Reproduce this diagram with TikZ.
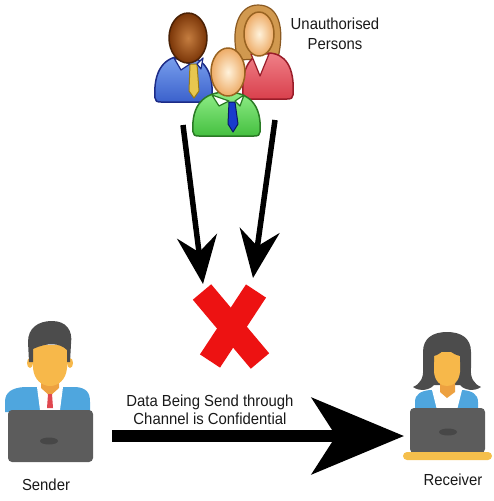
\documentclass[tikz,border=0pt]{standalone}
\usepackage{fontspec}
\setmainfont{Liberation Sans}[FakeStretch=0.93]
\usetikzlibrary{arrows.meta}
\definecolor{ee1111}{rgb}{0.93,0.07,0.07}
\definecolor{7a36q8}{rgb}{0.48,0.21,0.03}
\definecolor{c47c4q}{rgb}{0.77,0.49,0.25}
\definecolor{4a2qq4}{rgb}{0.29,0.13,0.02}
\definecolor{7aaqee}{rgb}{0.48,0.63,0.93}
\definecolor{3a62cc}{rgb}{0.23,0.38,0.8}
\definecolor{1c2c88}{rgb}{0.11,0.17,0.53}
\definecolor{e8c85q}{rgb}{0.91,0.78,0.31}
\definecolor{9a7a18}{rgb}{0.6,0.48,0.09}
\definecolor{fff2dc}{rgb}{1,0.95,0.86}
\definecolor{eeaa66}{rgb}{0.93,0.67,0.4}
\definecolor{9a642q}{rgb}{0.6,0.39,0.13}
\definecolor{dq9a5q}{rgb}{0.82,0.6,0.31}
\definecolor{8a5a2q}{rgb}{0.54,0.35,0.13}
\definecolor{fq8q88}{rgb}{0.94,0.5,0.53}
\definecolor{d84q4c}{rgb}{0.85,0.25,0.3}
\definecolor{9a1c28}{rgb}{0.6,0.11,0.16}
\definecolor{9qee88}{rgb}{0.56,0.93,0.53}
\definecolor{44cq4q}{rgb}{0.27,0.75,0.25}
\definecolor{2a7a24}{rgb}{0.16,0.48,0.14}
\definecolor{1a3acc}{rgb}{0.1,0.23,0.8}
\definecolor{qa1a66}{rgb}{0.04,0.1,0.4}
\definecolor{4d4d4d}{rgb}{0.3,0.3,0.3}
\definecolor{f7b84a}{rgb}{0.97,0.72,0.29}
\definecolor{eeaq4q}{rgb}{0.93,0.63,0.25}
\definecolor{4ea6de}{rgb}{0.31,0.65,0.87}
\definecolor{eq485q}{rgb}{0.88,0.28,0.31}
\definecolor{5c5c5c}{rgb}{0.36,0.36,0.36}
\definecolor{474747}{rgb}{0.28,0.28,0.28}
\definecolor{f4cq4c}{rgb}{0.96,0.75,0.3}

\begin{document}
\begin{tikzpicture}[line cap=round,line join=round,x=1pt,y=-1pt,
    lbl/.style={inner sep=0pt,text=black!90,align=center},
    thinarrow/.style={line width=5.5pt,line cap=butt,-{Stealth[length=48pt,width=40pt,inset=16pt]}},
    channel/.style={line width=12pt,line cap=butt,-{Stealth[length=92pt,width=76pt,inset=24pt]}}]
\useasboundingbox (0,0) rectangle (493,501);
		% woman at the back
		\fill[color=dq9a5q,draw=8a5a2q,line width=1.2pt] (238,60) .. controls (230,30) and (238,5) .. (258,5) .. controls (279,5) and (285,28) .. (278,58) -- cycle;
		\draw[color=9a1c28,line width=1.5pt,top color=fq8q88,bottom color=d84q4c] (243,95) .. controls (241,67) and (251,53) .. (268,53) .. controls (285,53) and (295,67) .. (293,95) .. controls (293,98) and (291,99) .. (287,99) -- (249,99) .. controls (245,99) and (243,98) .. (243,95) -- cycle;
		\filldraw[fill=white,draw=9a1c28,line width=1.2pt] (251,54) -- (260,76) -- (269,54) -- cycle;
		\draw[color=9a642q,line width=1.5pt,inner color=fff2dc,outer color=eeaa66] (259,34) ellipse (15 and 22);
		% man with the yellow tie
		\draw[color=1c2c88,line width=1.5pt,top color=7aaqee,bottom color=3a62cc] (155,98) .. controls (153,70) and (165,56) .. (183.5,56) .. controls (202,56) and (214,70) .. (212,98) .. controls (212,101) and (210,102) .. (206,102) -- (161,102) .. controls (157,102) and (155,101) .. (155,98) -- cycle;
		\filldraw[fill=e8c85q,draw=9a7a18,line width=1pt] (190,64) -- (197,64) -- (199,91) -- (194,98) -- (189,91) -- cycle;
		\filldraw[fill=white,draw=1c2c88,line width=1.2pt] (174,58) -- (190,64) -- (181,70) -- cycle;
		\filldraw[fill=white,draw=1c2c88,line width=1.2pt] (203,58) -- (197,64) -- (201,69) -- cycle;
		\draw[color=4a2qq4,line width=1.5pt,inner color=c47c4q,outer color=7a36q8] (188,38) ellipse (19 and 25);
		% man with the blue tie, in front
		\draw[color=2a7a24,line width=1.5pt,top color=9qee88,bottom color=44cq4q] (193,132) .. controls (191,105) and (204,92) .. (226.5,92) .. controls (249,92) and (262,105) .. (260,132) .. controls (260,135) and (258,136) .. (254,136) -- (199,136) .. controls (195,136) and (193,135) .. (193,132) -- cycle;
		\filldraw[fill=1a3acc,draw=qa1a66,line width=1pt] (229,102) -- (235,102) -- (238,124) -- (233,132) -- (228,124) -- cycle;
		\filldraw[fill=white,draw=2a7a24,line width=1.2pt] (212,95) -- (229,101) -- (219,106) -- cycle;
		\filldraw[fill=white,draw=2a7a24,line width=1.2pt] (244,95) -- (235,101) -- (240,106) -- cycle;
		\draw[color=9a642q,line width=1.5pt,inner color=fff2dc,outer color=eeaa66] (228,72) ellipse (17 and 24);
	\node[lbl,font=\fontsize{16}{20}\selectfont] (crowd) at (335,34) {Unauthorised\\Persons};
		% the cross
		\coordinate (xmark) at (231,326);
		\draw[color=ee1111,line width=24pt,line cap=butt] (202,292) -- (260,361);
		\draw[color=ee1111,line width=24pt,line cap=butt] (256,291) -- (210,361);
	\coordinate (tailL) at (183,125);
	\coordinate (tipL) at (203,284);
	\coordinate (tailR) at (275,120);
	\coordinate (tipR) at (253,278);
	\draw[thinarrow] (tailL) -- (tipL);
	\draw[thinarrow] (tailR) -- (tipR);
		% sender
		\fill[color=4ea6de] (5,412) -- (5,402) .. controls (5,392) and (12,388) .. (24,387) -- (76,387) .. controls (86,388) and (90,392) .. (90,402) -- (90,412) -- cycle;
		\fill[color=white] (37,387) -- (63,387) -- (60,410) -- (40,410) -- cycle;
		\fill[color=eeaq4q] (41,374) -- (59,374) -- (59,388) -- (50,396) -- (41,388) -- cycle;
		\fill[color=eq485q] (48,394) -- (52,394) -- (53,408) -- (47,408) -- cycle;
		\fill[color=f7b84a] (30,363) ellipse (3 and 5);
		\fill[color=f7b84a] (70,363) ellipse (3 and 5);
		\fill[color=f7b84a] (33,345) -- (33,368) .. controls (34,380) and (42,386) .. (50,386) .. controls (58,386) and (66,380) .. (67,368) -- (67,345) -- cycle;
		\fill[color=4d4d4d] (29,362) -- (28,342) .. controls (28,328) and (38,321) .. (52,321) .. controls (66,321) and (73,330) .. (71,344) -- (70,362) -- (67,362) -- (67,350) .. controls (60,343) and (48,342) .. (33,349) -- (33,362) -- cycle;
		\fill[color=5c5c5c,rounded corners=4pt] (8,410) rectangle (93,462);
		\fill[color=474747] (49,441) ellipse (9 and 3.5);
	\node[lbl,font=\fontsize{16}{18}\selectfont] (sender) at (46,485) {Sender};
		% receiver
		\fill[color=4d4d4d] (413,387) .. controls (420,384) and (424,378) .. (423,368) -- (423,352) .. controls (423,338) and (433,332) .. (447,332) .. controls (461,332) and (471,338) .. (471,352) -- (471,368) .. controls (470,378) and (474,384) .. (481,387) .. controls (474,392) and (464,390) .. (460,385) -- (434,385) .. controls (430,390) and (420,392) .. (413,387) -- cycle;
		\fill[color=4ea6de] (415,412) -- (415,402) .. controls (415,394) and (421,391) .. (430,390) -- (463,390) .. controls (472,391) and (478,394) .. (478,402) -- (478,412) -- cycle;
		\fill[color=white] (432,390) -- (462,390) -- (457,410) -- (437,410) -- cycle;
		\fill[color=eeaq4q] (440,378) -- (455,378) -- (455,392) -- (447,398) -- (440,392) -- cycle;
		\fill[color=f7b84a] (434,352) -- (434,372) .. controls (435,382) and (441,386) .. (447,386) .. controls (453,386) and (459,382) .. (460,372) -- (460,352) -- cycle;
		\fill[color=4d4d4d] (432,362) -- (432,350) .. controls (432,336) and (462,336) .. (462,350) -- (462,362) -- (460,362) -- (460,356) .. controls (452,354) and (448,350) .. (446,346) .. controls (443,352) and (438,355) .. (434,356) -- (434,362) -- cycle;
		\fill[color=5c5c5c,rounded corners=4pt] (410,408) rectangle (485,453);
		\fill[color=474747] (448,432) ellipse (9 and 3.5);
		\fill[color=f4cq4c,rounded corners=4pt] (403,452) rectangle (492,460);
	\node[lbl,font=\fontsize{16}{18}\selectfont] (receiver) at (453,480) {Receiver};
	\coordinate (chanS) at (112,436);
	\coordinate (chanR) at (404,436);
	\draw[channel] (chanS) -- (chanR);
	\node[lbl,font=\fontsize{16}{17.5}\selectfont] (chan) at (210,410) {Data Being Send through\\Channel is Confidential};
\end{tikzpicture}
\end{document}
